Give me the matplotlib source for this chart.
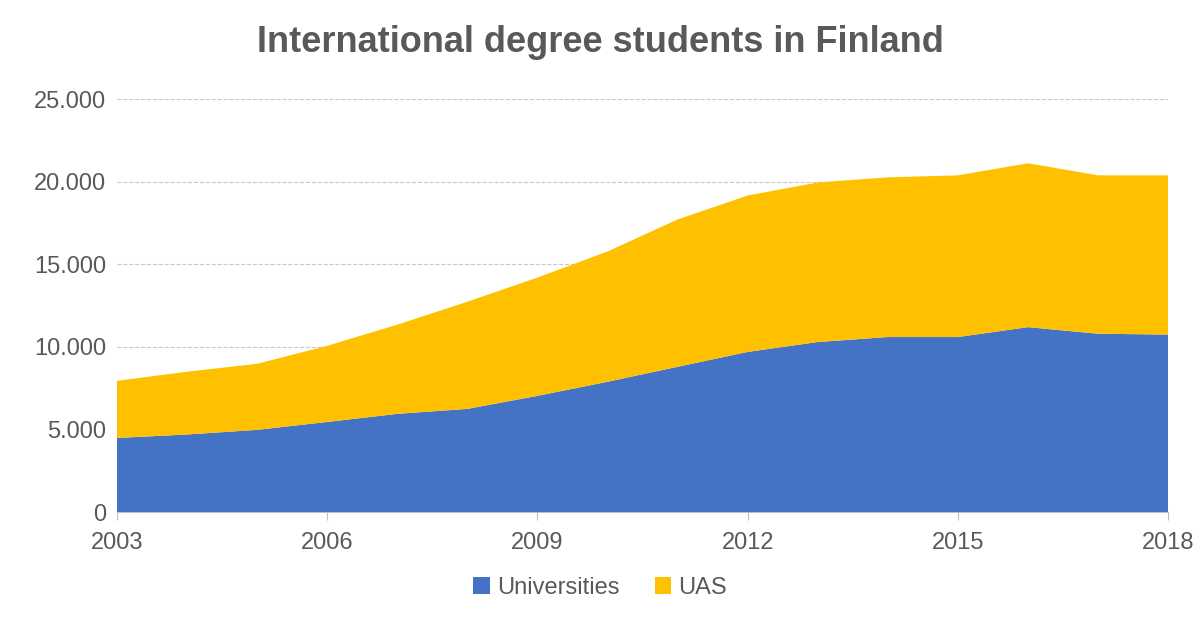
import matplotlib
matplotlib.use("Agg")
import matplotlib.pyplot as plt
import numpy as np
from matplotlib.ticker import FuncFormatter

plt.rcParams['font.family'] = ['Liberation Sans', 'DejaVu Sans']

years = list(range(2003, 2019))
universities = [4490, 4700, 4980, 5460, 5950, 6250, 7040, 7890, 8800, 9700, 10300, 10600, 10600, 11200, 10800, 10750]
total = [7950, 8500, 8980, 10070, 11350, 12740, 14200, 15780, 17720, 19170, 19960, 20270, 20390, 21120, 20390, 20390]
uas = [t - u for t, u in zip(total, universities)]
xticks = [2003, 2006, 2009, 2012, 2015, 2018]
yticks = [0, 5000, 10000, 15000, 20000, 25000]

fig = plt.figure(figsize=(12, 6.2), dpi=100)
ax = fig.add_axes([0.0975, 0.174, 0.876, 0.666])
ax.stackplot(years, universities, uas, colors=['#4472C4', '#FFC000'],
             labels=['Universities', 'UAS'])
ax.set_xlim(2003, 2018)
ax.set_ylim(0, 25000)
ax.set_xticks(xticks)
ax.set_yticks(yticks)
ax.yaxis.set_major_formatter(FuncFormatter(lambda v, p: f"{int(v):,}".replace(",", ".")))
ax.grid(axis='y', color='#C8C8C8', linestyle='--', linewidth=0.8)
ax.set_axisbelow(True)
for s in ['top', 'right', 'left']:
    ax.spines[s].set_visible(False)
ax.spines['bottom'].set_color('#BFBFBF')
ax.tick_params(axis='both', colors='#595959', labelsize=17, length=0, pad=8)
ax.tick_params(axis='x', length=6, color='#BFBFBF', direction='out')
fig.suptitle('International degree students in Finland', fontsize=26, fontweight='bold',
             color='#595959', y=0.96)
fig.legend(loc='lower center', ncol=2, frameon=False, fontsize=17, bbox_to_anchor=(0.5, 0.0),
           handlelength=0.7, handleheight=0.7, handletextpad=0.3, columnspacing=1.5,
           labelcolor='#595959')
fig.savefig('out.png')
